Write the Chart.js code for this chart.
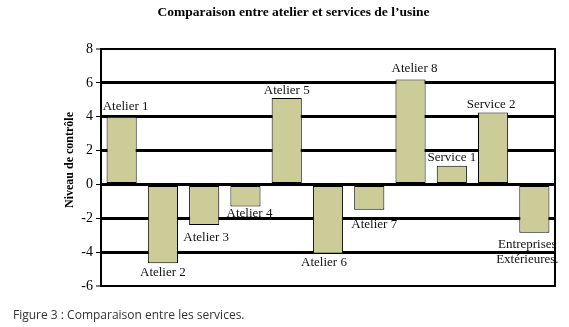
<!DOCTYPE html>
<html>
<head>
<meta charset="utf-8">
<script src="https://cdn.jsdelivr.net/npm/chart.js@4/dist/chart.umd.min.js"></script>
<style>
  html, body { margin: 0; padding: 0; background: #fff; }
  #wrap { position: relative; width: 569px; height: 327px; }
  canvas { display: block; }
</style>
</head>
<body>
<div id="wrap"><canvas id="c" width="569" height="327"></canvas></div>
<script>
// Control level per workshop / service
const categories = ['Atelier 1', 'Atelier 2', 'Atelier 3', 'Atelier 4', 'Atelier 5', 'Atelier 6',
                    'Atelier 7', 'Atelier 8', 'Service 1', 'Service 2', ['Entreprises', 'Extérieures.']];
const controlLevels = [4, -4.65, -2.4, -1.3, 5.1, -4.1, -1.5, 6.2, 1.1, 4.25, -2.85];
const yTicks = [-6, -4, -2, 0, 2, 4, 6, 8];

const chartTitle = 'Comparaison entre atelier et services de l\u2019usine';
const yAxisTitle = 'Niveau de contrôle';
const caption = 'Figure 3 : Comparaison entre les services.';

// small per-label nudges [dx, dy] for the bar captions
const labelNudge = [[4, -1], [0, 0], [2, 4], [4, -2], [0, 1], [-4, 0], [5, 6], [4, -2], [0, 1], [-2, 1], [-7, 3]];

const SERIF = '"Liberation Serif", "Times New Roman", serif';

const decorPlugin = {
  id: 'decor',
  afterDatasetsDraw(chart) {
    const ctx = chart.ctx;
    const area = chart.chartArea;
    const meta = chart.getDatasetMeta(0);
    ctx.save();
    // right frame line
    ctx.strokeStyle = '#000';
    ctx.lineWidth = 2;
    ctx.beginPath();
    ctx.moveTo(area.right, area.top - 1);
    ctx.lineTo(area.right, area.bottom + 1);
    ctx.stroke();

    // bar captions
    ctx.font = '13px ' + SERIF;
    ctx.fillStyle = '#111';
    ctx.textAlign = 'center';
    ctx.textBaseline = 'middle';
    const lineH = 15;
    meta.data.forEach((bar, i) => {
      const v = controlLevels[i];
      const lines = Array.isArray(categories[i]) ? categories[i] : [categories[i]];
      const [dx, dy] = labelNudge[i];
      const x = bar.x + dx;
      if (v >= 0) {
        const yEnd = bar.y - 9 + dy;
        lines.forEach((t, k) => ctx.fillText(t, x, yEnd - (lines.length - 1 - k) * lineH));
      } else {
        const yStart = bar.y + 9 + dy;
        lines.forEach((t, k) => ctx.fillText(t, x, yStart + k * lineH));
      }
    });
    ctx.restore();
  },
  afterDraw(chart) {
    const ctx = chart.ctx;
    ctx.save();
    ctx.fillStyle = '#000';
    ctx.textAlign = 'center';
    ctx.textBaseline = 'middle';
    ctx.font = 'bold 13.5px ' + SERIF;
    ctx.fillText(chartTitle, 293.5, 13);

    ctx.save();
    ctx.translate(70, 160);
    ctx.rotate(-Math.PI / 2);
    ctx.font = 'bold 12px ' + SERIF;
    ctx.fillText(yAxisTitle, 0, 0);
    ctx.restore();

    ctx.textAlign = 'left';
    ctx.fillStyle = '#333';
    ctx.font = '12px "Open Sans", sans-serif';
    ctx.fillText(caption, 13, 316);
    ctx.restore();
  }
};

new Chart(document.getElementById('c'), {
  type: 'bar',
  data: {
    labels: categories,
    datasets: [{
      data: controlLevels,
      backgroundColor: '#cccc99',
      borderColor: '#000',
      borderWidth: 1,
      borderSkipped: false,
      categoryPercentage: 1,
      barPercentage: 0.73
    }]
  },
  options: {
    responsive: false,
    devicePixelRatio: 1,
    animation: false,
    layout: { padding: { top: 49, bottom: 41, right: 14, left: 0 } },
    plugins: { legend: { display: false }, tooltip: { enabled: false }, title: { display: false } },
    scales: {
      x: { display: false, offset: true },
      y: {
        min: -6,
        max: 8,
        afterBuildTicks(scale) { scale.ticks = yTicks.map(v => ({ value: v })); },
        afterFit(scale) { scale.width = 101; },
        ticks: {
          color: '#000',
          padding: 3,
          font: { family: SERIF, size: 14 },
          callback: v => String(v)
        },
        grid: {
          color: '#000',
          lineWidth: ctx => (ctx.tick && (ctx.tick.value === 8 || ctx.tick.value === -6)) ? 2 : 3,
          tickLength: 5,
          tickWidth: 1,
          tickColor: '#000'
        },
        border: { display: true, color: '#000', width: 2 }
      }
    }
  },
  plugins: [decorPlugin]
});
</script>
</body>
</html>
